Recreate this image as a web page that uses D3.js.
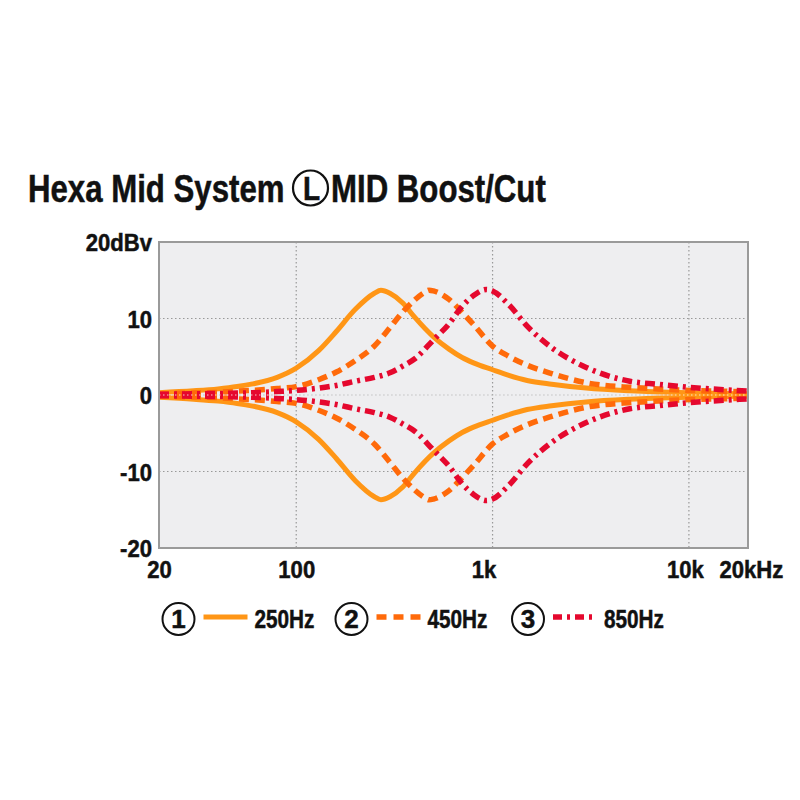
<!DOCTYPE html>
<html>
<head>
<meta charset="utf-8">
<script src="https://cdn.jsdelivr.net/npm/d3@7"></script>
<style>
  body { margin: 0; background: #fff; }
  text { font-family: "Liberation Sans", Arial, sans-serif; font-weight: bold; fill: #111; stroke: #111; stroke-width: 0.5px; }
</style>
</head>
<body>
<div id="app"></div>
<script>
const margin = { left: 159, top: 242, right: 52, bottom: 252 };
const bounds = {
    width: 800 - margin.left - margin.right,
    height: 800 - margin.top - margin.bottom
};

// tick values / labels
const xTicks = [20, 100, 1000, 10000, 20000];
const xTickLabels = ['20', '100', '1k', '10k', '20kHz'];
const yTicks = [20, 10, 0, -10, -20];
const yTickLabels = ['20dBv', '10', '0', '-10', '-20'];

// 250Hz (solid)
const freq250 = [20, 30, 40, 50, 60, 80, 100, 130, 160, 200, 250, 270, 300, 350, 400, 500, 600, 700, 800, 1000, 1200, 1500, 2000, 3000, 5000, 7000, 10000, 15000, 20000];
const boost250 = [0.3, 0.55, 0.8, 1.1, 1.45, 2.3, 3.5, 5.8, 8.3, 11.2, 13.3, 13.7, 13.3, 12.0, 10.2, 7.6, 6.0, 4.9, 4.2, 3.3, 2.6, 1.9, 1.4, 0.9, 0.55, 0.4, 0.3, 0.2, 0.15];
const cut250 = [-0.3, -0.55, -0.8, -1.1, -1.45, -2.3, -3.5, -5.8, -8.3, -11.2, -13.3, -13.7, -13.3, -12.0, -10.2, -7.6, -6.0, -4.9, -4.2, -3.3, -2.6, -1.9, -1.4, -0.9, -0.55, -0.4, -0.3, -0.2, -0.15];

// 450Hz (dashed)
const freq450 = [20, 30, 40, 50, 60, 80, 100, 130, 160, 200, 250, 300, 350, 400, 450, 475, 500, 600, 700, 800, 1000, 1200, 1500, 2000, 3000, 5000, 7000, 10000, 15000, 20000];
const boost450 = [0.15, 0.25, 0.35, 0.5, 0.6, 0.85, 1.1, 2.0, 3.0, 4.5, 6.4, 8.8, 10.9, 12.4, 13.4, 13.7, 13.6, 12.5, 10.8, 9.2, 6.4, 5.1, 3.9, 2.8, 1.6, 1.0, 0.8, 0.6, 0.5, 0.4];
const cut450 = [-0.15, -0.25, -0.35, -0.5, -0.6, -0.85, -1.1, -2.0, -3.0, -4.5, -6.4, -8.8, -10.9, -12.4, -13.4, -13.7, -13.6, -12.5, -10.8, -9.2, -6.4, -5.1, -3.9, -2.8, -1.6, -1.0, -0.8, -0.6, -0.5, -0.4];

// 850Hz (dash-dot)
const freq850 = [20, 30, 40, 50, 60, 80, 100, 130, 160, 200, 250, 300, 350, 400, 500, 600, 700, 800, 930, 1000, 1200, 1500, 2000, 3000, 5000, 7000, 10000, 15000, 20000];
const boost850 = [0.1, 0.15, 0.2, 0.25, 0.3, 0.45, 0.6, 0.9, 1.25, 1.8, 2.3, 2.9, 3.8, 4.7, 7.2, 9.3, 11.6, 13.0, 13.8, 13.6, 11.9, 9.0, 6.2, 3.6, 1.8, 1.4, 1.0, 0.7, 0.5];
const cut850 = [-0.1, -0.15, -0.2, -0.25, -0.3, -0.45, -0.6, -0.9, -1.25, -1.8, -2.3, -2.9, -3.8, -4.7, -7.2, -9.3, -11.6, -13.0, -13.8, -13.6, -11.9, -9.0, -6.2, -3.6, -1.8, -1.4, -1.0, -0.7, -0.5];

const seriesNames = ['250Hz', '450Hz', '850Hz'];

const styles = {
    '250Hz': { color: '#ff9616', width: 5, dash: null },
    '450Hz': { color: '#ff6a0a', width: 5.5, dash: '10,6' },
    '850Hz': { color: '#e5082e', width: 5.5, dash: '10,5,3,5' }
};

const series = [
    { name: '250Hz', f: freq250, v: boost250 },
    { name: '250Hz', f: freq250, v: cut250 },
    { name: '450Hz', f: freq450, v: boost450 },
    { name: '450Hz', f: freq450, v: cut450 },
    { name: '850Hz', f: freq850, v: boost850 },
    { name: '850Hz', f: freq850, v: cut850 }
];

const root = d3.select('#app')
    .append('svg')
    .attr('width', 800)
    .attr('height', 800);

// title (squeezed horizontally, like a condensed face)
const title = root.append('g').attr('class', 'title');
title.append('text')
    .attr('transform', 'translate(28,202) scale(0.8,1)')
    .attr('font-size', 39)
    .text('Hexa Mid System');
title.append('circle')
    .attr('cx', 310.5).attr('cy', 188).attr('r', 17.5)
    .attr('fill', 'none').attr('stroke', '#111').attr('stroke-width', 2.2);
title.append('text')
    .attr('transform', 'translate(311.5,200) scale(0.85,1)')
    .attr('text-anchor', 'middle')
    .attr('font-size', 33)
    .text('L');
title.append('text')
    .attr('transform', 'translate(331,202) scale(0.8,1)')
    .attr('font-size', 39)
    .text('MID Boost/Cut');

const svg = root.append('g')
    .attr('transform', `translate(${margin.left},${margin.top})`);

const xScale = d3.scaleLog()
    .domain([20, 20000])
    .range([0, bounds.width]);
const yScale = d3.scaleLinear()
    .domain([-20, 20])
    .range([bounds.height, 0]);

// plot background
svg.append('rect')
    .attr('width', bounds.width)
    .attr('height', bounds.height)
    .attr('fill', '#eeeef0');

// grid
svg.append('g')
    .selectAll('line')
    .data([100, 1000, 10000])
    .join('line')
    .attr('x1', d => xScale(d)).attr('x2', d => xScale(d))
    .attr('y1', 0).attr('y2', bounds.height)
    .attr('stroke', '#999').attr('stroke-width', 1.2)
    .attr('stroke-dasharray', '1.5,2.5');
svg.append('g')
    .selectAll('line')
    .data([10, 0, -10])
    .join('line')
    .attr('x1', 0).attr('x2', bounds.width)
    .attr('y1', d => yScale(d)).attr('y2', d => yScale(d))
    .attr('stroke', '#999').attr('stroke-width', 1.2)
    .attr('stroke-dasharray', '1.5,2.5');

// curves
const line = d3.line()
    .x(d => xScale(d[0]))
    .y(d => yScale(d[1]))
    .curve(d3.curveMonotoneX);

svg.append('g')
    .selectAll('path')
    .data(series)
    .join('path')
    .attr('d', d => line(d3.zip(d.f, d.v)))
    .attr('fill', 'none')
    .attr('stroke', d => styles[d.name].color)
    .attr('stroke-width', d => styles[d.name].width)
    .attr('stroke-dasharray', d => styles[d.name].dash);

// zero line showing through the curves
svg.append('line')
    .attr('x1', 0).attr('x2', bounds.width)
    .attr('y1', yScale(0)).attr('y2', yScale(0))
    .attr('stroke', '#fff').attr('stroke-opacity', 0.75)
    .attr('stroke-width', 1.2)
    .attr('stroke-dasharray', '1.5,2.5');

// frame
svg.append('rect')
    .attr('width', bounds.width)
    .attr('height', bounds.height)
    .attr('fill', 'none')
    .attr('stroke', '#9a9a9a')
    .attr('stroke-width', 2);

// axes
const yAxis = svg.append('g')
    .call(d3.axisLeft(yScale).tickValues(yTicks).tickSize(0).tickPadding(7)
        .tickFormat((d, i) => yTickLabels[i]));
yAxis.select('.domain').remove();
yAxis.selectAll('text')
    .attr('font-size', 24)
    .attr('font-family', null)
    .attr('fill', '#111')
    .attr('dy', '0.36em');

const xDx = [0, 0, -9, -4, 0];
const xAxis = svg.append('g')
    .attr('transform', `translate(0,${bounds.height})`)
    .call(d3.axisBottom(xScale).tickValues(xTicks).tickSize(0).tickPadding(13)
        .tickFormat((d, i) => xTickLabels[i]));
xAxis.select('.domain').remove();
xAxis.selectAll('text')
    .attr('font-size', 24)
    .attr('font-family', null)
    .attr('fill', '#111')
    .attr('dx', (d, i) => xDx[i])
    .attr('text-anchor', (d, i) => i === xTicks.length - 1 ? 'start' : 'middle')
    .attr('x', (d, i) => i === xTicks.length - 1 ? -29 : 0);
root.selectAll('.tick text').each(function () {
    const el = d3.select(this);
    const w = this.getComputedTextLength();
    el.attr('textLength', w * 0.92).attr('lengthAdjust', 'spacingAndGlyphs');
});

// legend
const legendX = [178.5, 351.5, 528];
const legend = root.append('g')
    .attr('transform', 'translate(0,619)');
const items = legend.selectAll('g')
    .data(seriesNames)
    .join('g')
    .attr('transform', (d, i) => `translate(${legendX[i]},0)`);
items.append('circle')
    .attr('r', 16)
    .attr('fill', 'none')
    .attr('stroke', '#111')
    .attr('stroke-width', 2);
items.append('text')
    .attr('text-anchor', 'middle')
    .attr('y', 9)
    .attr('font-size', 26)
    .text((d, i) => i + 1);
items.append('line')
    .attr('x1', 25).attr('x2', 69)
    .attr('y1', -2).attr('y2', -2)
    .attr('stroke', d => styles[d].color)
    .attr('stroke-width', d => styles[d].width)
    .attr('stroke-dasharray', d => styles[d].dash ? (d === '450Hz' ? '10,7' : '9,5,3,5') : null);
items.append('text')
    .attr('transform', 'translate(76,9) scale(0.83,1)')
    .attr('font-size', 25)
    .text(d => d);
</script>
</body>
</html>
